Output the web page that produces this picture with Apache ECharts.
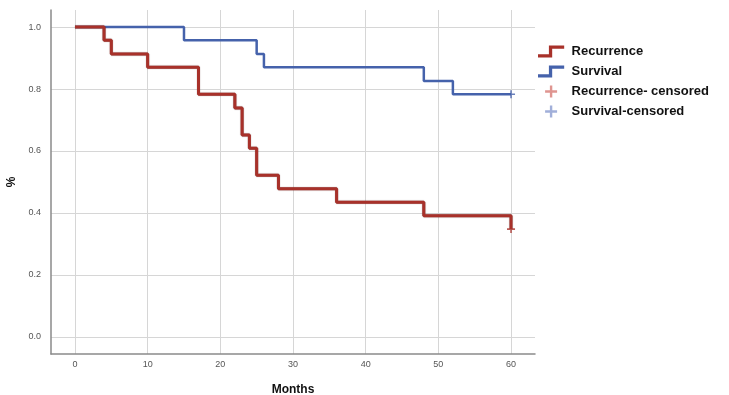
<!DOCTYPE html>
<html>
<head>
<meta charset="utf-8">
<script src="https://cdn.jsdelivr.net/npm/echarts@6/dist/echarts.min.js"></script>
<style>
  html, body { margin: 0; padding: 0; background: #fff; }
  #chart { width: 729px; height: 395px; }
</style>
</head>
<body>
<div id="chart"></div>
<script>
// Kaplan-Meier steps (months, proportion)
const recurrenceMonths = [0, 4, 5, 10, 17, 22, 23, 24, 25, 28, 36, 48, 60];
const recurrenceValues = [1, 0.957, 0.913, 0.870, 0.783, 0.739, 0.652, 0.609, 0.522, 0.478, 0.435, 0.391, 0.348];
const survivalMonths = [0, 15, 25, 26, 48, 52, 60];
const survivalValues = [1, 0.957, 0.913, 0.870, 0.826, 0.783, 0.783];
const censoredRecurrence = [[60, 0.348]];
const censoredSurvival = [[60, 0.783]];
const xTicks = [0, 10, 20, 30, 40, 50, 60];
const yTicks = [0, 0.2, 0.4, 0.6, 0.8, 1.0];

const RED = '#a8312a';
const BLUE = '#4562ab';
const crossPath = 'path://M4,0H6V10H4ZM0,4H10V6H0Z';
const stepUpPath = 'path://M0,8H10V0H24V3H13V11H0Z';

const zip = (xs, ys) => xs.map((x, i) => [x, ys[i]]);

const chart = echarts.init(document.getElementById('chart'));

const axisText = { color: '#555', fontSize: 9, fontFamily: 'Liberation Sans, Arial, sans-serif' };
const nameText = { color: '#111', fontSize: 12, fontWeight: 'bold', fontFamily: 'Liberation Sans, Arial, sans-serif' };

chart.setOption({
  animation: false,
  backgroundColor: '#fff',
  grid: { left: 51, top: 10, right: 194, bottom: 41, outerBoundsMode: 'none' },
  xAxis: {
    type: 'value',
    min: -3.3,
    max: 63.3,
    name: 'Months',
    nameLocation: 'middle',
    nameGap: 30,
    nameTextStyle: nameText,
    axisLine: { onZero: false, lineStyle: { color: '#8a8a8a', width: 1.5 } },
    axisTick: { show: false, customValues: xTicks },
    axisLabel: { customValues: xTicks, margin: 6, ...axisText },
    splitLine: { show: true, lineStyle: { color: '#d6d6d6', width: 1 } }
  },
  yAxis: {
    type: 'value',
    min: -0.055,
    max: 1.055,
    name: '%',
    nameLocation: 'middle',
    nameGap: 32,
    nameTextStyle: nameText,
    axisLine: { show: true, onZero: false, lineStyle: { color: '#8a8a8a', width: 1.5 } },
    axisTick: { show: false, customValues: yTicks },
    axisLabel: { customValues: yTicks, margin: 10, formatter: v => v.toFixed(1), ...axisText },
    splitLine: { show: true, lineStyle: { color: '#d6d6d6', width: 1 } }
  },
  legend: {
    orient: 'vertical',
    left: 533,
    top: 40,
    itemWidth: 27,
    itemHeight: 12,
    itemGap: 7,
    textStyle: { color: '#111', fontSize: 13, fontWeight: 'bold', fontFamily: 'Liberation Sans, Arial, sans-serif', padding: [0, 0, 0, 2] },
    data: [
      { name: 'Recurrence', icon: stepUpPath, itemStyle: { color: RED } },
      { name: 'Survival', icon: stepUpPath, itemStyle: { color: BLUE } },
      { name: 'Recurrence- censored', icon: crossPath, itemStyle: { color: '#d77a74' } },
      { name: 'Survival-censored', icon: crossPath, itemStyle: { color: '#8a9bcf' } }
    ]
  },
  series: [
    {
      name: 'Recurrence',
      type: 'line',
      step: 'end',
      data: zip(recurrenceMonths, recurrenceValues),
      showSymbol: false,
      color: RED,
      lineStyle: { color: RED, width: 3, shadowColor: 'rgba(60,10,10,0.6)', shadowBlur: 1 },
      z: 3
    },
    {
      name: 'Survival',
      type: 'line',
      step: 'end',
      data: zip(survivalMonths, survivalValues),
      showSymbol: false,
      color: BLUE,
      lineStyle: { color: BLUE, width: 2.5 },
      z: 2
    },
    {
      name: 'Recurrence- censored',
      type: 'scatter',
      data: censoredRecurrence,
      symbol: crossPath,
      symbolSize: 8,
      itemStyle: { color: RED },
      z: 4
    },
    {
      name: 'Survival-censored',
      type: 'scatter',
      data: censoredSurvival,
      symbol: crossPath,
      symbolSize: 8,
      itemStyle: { color: BLUE },
      z: 4
    }
  ]
});
</script>
</body>
</html>
